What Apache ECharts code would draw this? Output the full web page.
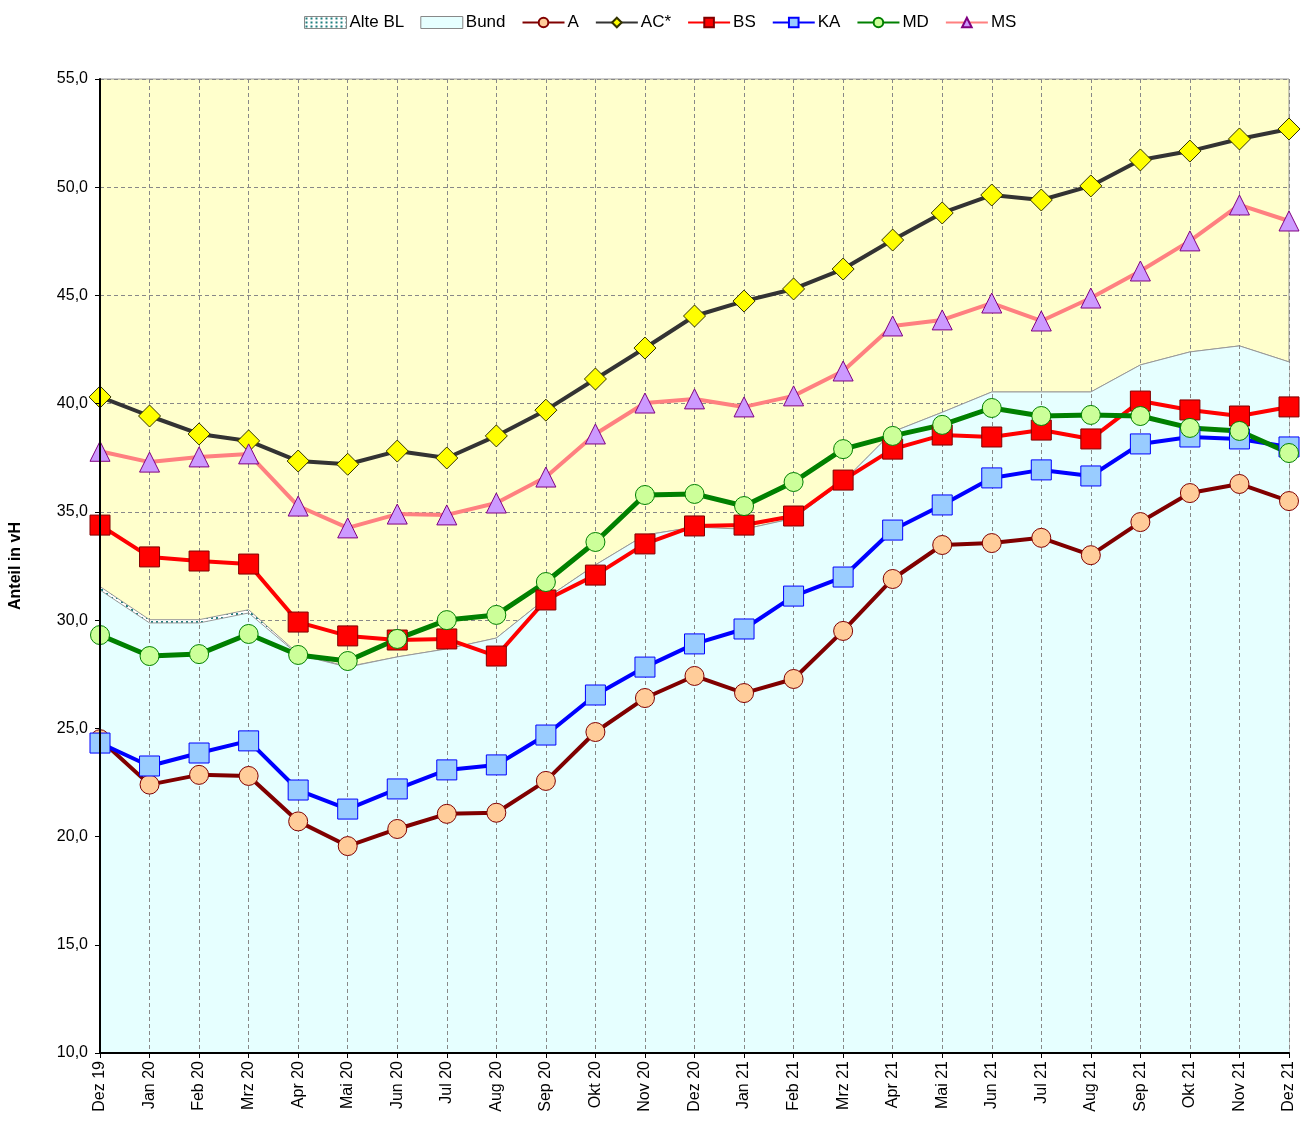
<!DOCTYPE html>
<html>
<head>
<meta charset="utf-8">
<script src="https://cdn.jsdelivr.net/npm/echarts@6/dist/echarts.min.js"></script>
<style>
  html, body { margin: 0; padding: 0; background: #ffffff; }
  #chart { width: 1302px; height: 1121px; }
</style>
</head>
<body>
<div id="chart"></div>
<script>
// Monate
var months = ["Dez 19", "Jan 20", "Feb 20", "Mrz 20", "Apr 20", "Mai 20", "Jun 20", "Jul 20", "Aug 20", "Sep 20", "Okt 20", "Nov 20",
  "Dez 20", "Jan 21", "Feb 21", "Mrz 21", "Apr 21", "Mai 21", "Jun 21", "Jul 21", "Aug 21", "Sep 21", "Okt 21", "Nov 21", "Dez 21"];

// Flächen
var alteBL = [31.55, 30.02, 30.02, 30.48, 28.45, 27.85, 28.3, 28.67, 29.17, 31.0, 32.55, 33.93, 34.3, 34.2, 34.7, 36.4, 38.7, 39.6, 40.54, 40.54, 40.54, 41.79, 42.39, 42.67, 41.93];
var bund = [31.39, 29.87, 29.87, 30.33, 28.4, 27.83, 28.3, 28.67, 29.17, 31.0, 32.55, 33.93, 34.3, 34.2, 34.7, 36.4, 38.7, 39.6, 40.54, 40.54, 40.54, 41.79, 42.39, 42.67, 41.93];

// Linien
var serA = [24.5, 22.4, 22.85, 22.8, 20.7, 19.56, 20.35, 21.05, 21.1, 22.57, 24.83, 26.4, 27.42, 26.63, 27.28, 29.5, 31.9, 33.47, 33.56, 33.8, 33.0, 34.53, 35.87, 36.29, 35.5];
var serAC = [40.31, 39.43, 38.6, 38.28, 37.35, 37.2, 37.81, 37.49, 38.51, 39.7, 41.14, 42.57, 44.05, 44.74, 45.3, 46.22, 47.56, 48.81, 49.64, 49.41, 50.06, 51.26, 51.67, 52.23, 52.69];
var serBS = [34.39, 32.92, 32.73, 32.59, 29.91, 29.27, 29.08, 29.13, 28.34, 30.93, 32.08, 33.52, 34.35, 34.39, 34.81, 36.47, 37.9, 38.55, 38.46, 38.78, 38.37, 40.12, 39.71, 39.43, 39.85];
var serKA = [24.32, 23.26, 23.86, 24.42, 22.15, 21.27, 22.2, 23.08, 23.31, 24.69, 26.54, 27.83, 28.9, 29.59, 31.11, 31.99, 34.16, 35.32, 36.57, 36.94, 36.66, 38.14, 38.46, 38.37, 38.0];
var serMD = [29.31, 28.34, 28.43, 29.36, 28.39, 28.11, 29.13, 30.0, 30.24, 31.76, 33.61, 35.78, 35.83, 35.27, 36.38, 37.9, 38.51, 39.02, 39.8, 39.43, 39.48, 39.43, 38.88, 38.74, 37.72];
var serMS = [37.8, 37.3, 37.54, 37.68, 35.27, 34.26, 34.9, 34.86, 35.41, 36.61, 38.6, 40.03, 40.22, 39.85, 40.36, 41.51, 43.59, 43.87, 44.65, 43.82, 44.88, 46.13, 47.52, 49.18, 48.44];

// Punktmuster für "Alte BL"
var pat = document.createElement("canvas");
pat.width = 5;
pat.height = 4;
var pctx = pat.getContext("2d");
pctx.fillStyle = "#ffffff";
pctx.fillRect(0, 0, 5, 4);
pctx.fillStyle = "#1f7f7f";
pctx.fillRect(1, 1, 2, 2);

var fontFam = "Liberation Sans, Arial, sans-serif";

function lineSeries(name, data, lineColor, fill, border, symbol, size, width) {
  return {
    name: name,
    type: "line",
    data: data,
    z: 4,
    symbol: symbol,
    symbolSize: size,
    showAllSymbol: true,
    lineStyle: { color: lineColor, width: width },
    itemStyle: { color: fill, borderColor: border, borderWidth: 1 },
    emphasis: { disabled: true },
  };
}

var chart = echarts.init(document.getElementById("chart"));

var option = {
  animation: false,
  textStyle: { fontFamily: fontFam },
  legend: {
    top: 9,
    left: 299,
    itemGap: 16,
    itemWidth: 42,
    itemHeight: 12,
    textStyle: { fontSize: 17, color: "#000", fontFamily: fontFam, padding: [0, 0, 0, -2] },
    data: [
      { name: "Alte BL", icon: "rect", itemStyle: { borderColor: "#888", borderWidth: 1 } },
      { name: "Bund", icon: "rect", itemStyle: { borderColor: "#888", borderWidth: 1 } },
      "A", "AC*", "BS", "KA", "MD", "MS",
    ],
  },
  grid: {
    left: 99,
    right: 13,
    top: 79,
    bottom: 68,
    show: true,
    backgroundColor: "#FFFFCC",
    borderColor: "#999999",
    borderWidth: 1,
  },
  xAxis: {
    type: "category",
    data: months,
    boundaryGap: false,
    z: 3,
    axisLine: { lineStyle: { color: "#000", width: 2 } },
    axisTick: { show: true, alignWithLabel: true, length: 5, lineStyle: { color: "#000" } },
    axisLabel: { rotate: 90, interval: 0, fontSize: 16, color: "#000", margin: 8, fontFamily: fontFam },
    splitLine: { show: true, interval: 0, lineStyle: { color: "#888", type: [4, 3], width: 1 } },
  },
  yAxis: [
    {
      type: "value",
      min: 10,
      max: 55,
      interval: 5,
      z: 0,
      axisLine: { show: false },
      axisTick: { show: false },
      axisLabel: { show: false },
      splitLine: { show: true, lineStyle: { color: "#888", type: [4, 3], width: 1 } },
    },
    {
      type: "value",
      min: 10,
      max: 55,
      interval: 5,
      position: "left",
      z: 6,
      name: "Anteil in vH",
      nameLocation: "middle",
      nameGap: 76,
      nameTextStyle: { fontSize: 16, fontWeight: "bold", color: "#000", fontFamily: fontFam },
      axisLine: { show: true, lineStyle: { color: "#000", width: 2 } },
      axisTick: { show: true, length: 5, lineStyle: { color: "#000" } },
      axisLabel: {
        fontSize: 16,
        color: "#000",
        margin: 12,
        fontFamily: fontFam,
        formatter: function (v) { return v.toFixed(1).replace(".", ","); },
      },
      splitLine: { show: false },
    },
  ],
  series: [
    {
      name: "Alte BL",
      type: "line",
      data: alteBL,
      z: 1,
      symbol: "none",
      lineStyle: { color: "#999", width: 1 },
      itemStyle: { color: { image: pat, repeat: "repeat" } },
      areaStyle: { origin: "start", color: { image: pat, repeat: "repeat" }, opacity: 1 },
      emphasis: { disabled: true },
    },
    {
      name: "Bund",
      type: "line",
      data: bund,
      z: 2,
      symbol: "none",
      lineStyle: { color: "#999", width: 1 },
      itemStyle: { color: "#E6FFFF" },
      areaStyle: { origin: "start", color: "#E6FFFF", opacity: 1 },
      emphasis: { disabled: true },
    },
    lineSeries("A", serA, "#800000", "#FFCC99", "#800000", "circle", 19, 4),
    lineSeries("AC*", serAC, "#333333", "#FFFF00", "#333300", "diamond", 22, 4),
    lineSeries("BS", serBS, "#FF0000", "#FF0000", "#800000", "rect", 20, 4),
    lineSeries("KA", serKA, "#0000FF", "#99CCFF", "#0000FF", "rect", 20, 4),
    lineSeries("MD", serMD, "#008000", "#CCFF99", "#008000", "circle", 19, 5),
    lineSeries("MS", serMS, "#FF8080", "#CC99FF", "#800080", "triangle", 20, 4),
  ],
};

chart.setOption(option);
</script>
</body>
</html>
